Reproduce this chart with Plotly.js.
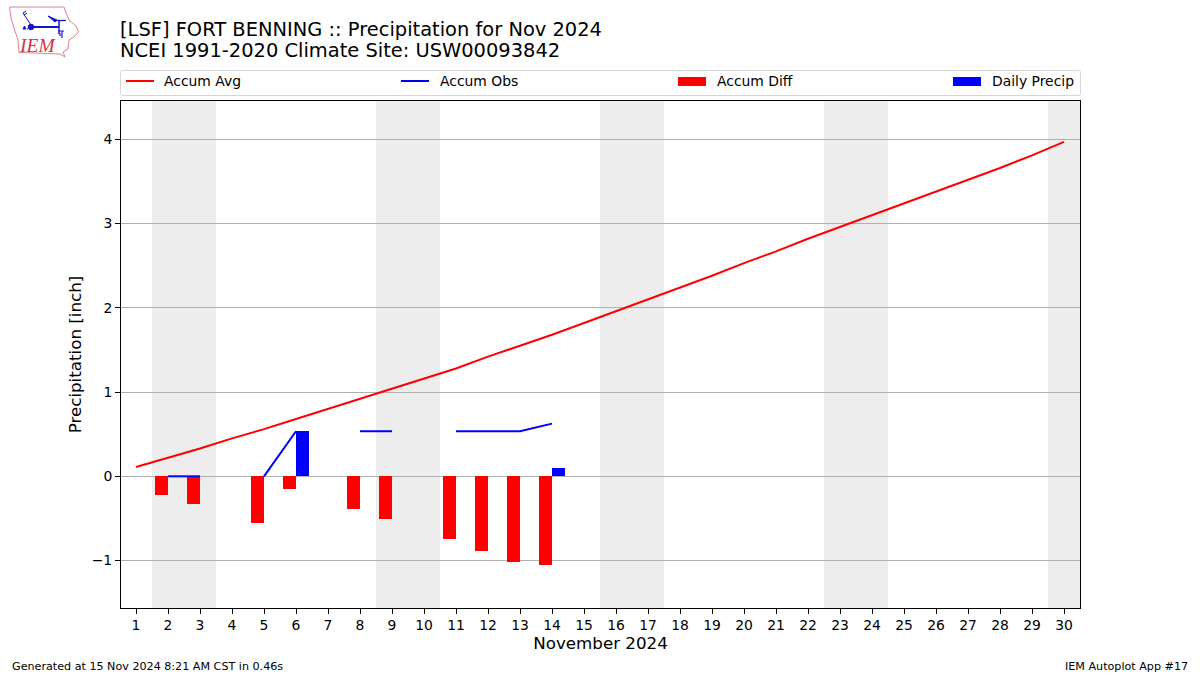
<!DOCTYPE html>
<html>
<head>
<meta charset="utf-8">
<script src="https://cdn.plot.ly/plotly-3.0.1.min.js"></script>
<style>html,body{margin:0;padding:0;background:#fff}#chart{width:1200px;height:675px}</style>
</head>
<body>
<div id="chart"></div>
<script>
const days = [1,2,3,4,5,6,7,8,9,10,11,12,13,14,15,16,17,18,19,20,21,22,23,24,25,26,27,28,29,30];
const accumAvg = [0.11,0.22,0.33,0.45,0.56,0.68,0.80,0.92,1.04,1.16,1.28,1.42,1.55,1.68,1.82,1.96,2.10,2.24,2.38,2.53,2.67,2.82,2.96,3.10,3.24,3.38,3.52,3.66,3.81,3.97];
const accumObs = [null,0,0,null,0,0.535,null,0.535,0.535,null,0.535,0.535,0.535,0.625];
const diffDays = [2,3,5,6,8,9,11,12,13,14];
const accumDiff = [-0.226,-0.33,-0.56,-0.155,-0.39,-0.51,-0.745,-0.89,-1.02,-1.055];
const precipDays = [6,14];
const dailyPrecip = [0.535,0.095];
const weekendBands = [[1.5,3.5],[8.5,10.5],[15.5,17.5],[22.5,24.5],[29.5,30.5]];
const yTicks = [-1,0,1,2,3,4];

const L=121,R=1080,T=101,B=608;
const px = x => (x-L)/(R-L);
const py = y => (B-y)/(B-T);
const FONT = '"DejaVu Sans", sans-serif';

const traces = [
  {type:'scatter',mode:'lines',name:'Accum Avg',x:days,y:accumAvg,line:{color:'#ff0000',width:2},showlegend:false},
  {type:'scatter',mode:'lines',name:'Accum Obs',x:days.slice(0,accumObs.length),y:accumObs,line:{color:'#0000ff',width:2},connectgaps:false,showlegend:false},
  {type:'bar',name:'Accum Diff',x:diffDays,y:accumDiff,width:0.4,offset:-0.4,marker:{color:'#ff0000',line:{width:0}},showlegend:false},
  {type:'bar',name:'Daily Precip',x:precipDays,y:dailyPrecip,width:0.4,offset:0,marker:{color:'#0000ff',line:{width:0}},showlegend:false}
];

const shapes = weekendBands.map(b=>({type:'rect',xref:'x',yref:'paper',x0:b[0],x1:b[1],y0:0,y1:1,fillcolor:'#ededed',line:{width:0},layer:'below'}));

function rr(x0,y0,x1,y1,r){
  const X=v=>px(v),Y=v=>py(v);
  return `M${X(x0+r)},${Y(y0)}L${X(x1-r)},${Y(y0)}Q${X(x1)},${Y(y0)} ${X(x1)},${Y(y0+r)}L${X(x1)},${Y(y1-r)}Q${X(x1)},${Y(y1)} ${X(x1-r)},${Y(y1)}L${X(x0+r)},${Y(y1)}Q${X(x0)},${Y(y1)} ${X(x0)},${Y(y1-r)}L${X(x0)},${Y(y0+r)}Q${X(x0)},${Y(y0)} ${X(x0+r)},${Y(y0)}Z`;
}
shapes.push({type:'path',xref:'paper',yref:'paper',path:rr(120.5,70.5,1080.5,95.5,2),fillcolor:'#ffffff',line:{color:'#d6d6d6',width:1}});
shapes.push({type:'line',xref:'paper',yref:'paper',x0:px(126),x1:px(154),y0:py(81),y1:py(81),line:{color:'#ff0000',width:2}});
shapes.push({type:'line',xref:'paper',yref:'paper',x0:px(401),x1:px(429),y0:py(81),y1:py(81),line:{color:'#0000ff',width:2}});
shapes.push({type:'rect',xref:'paper',yref:'paper',x0:px(678),x1:px(706),y0:py(77),y1:py(86),fillcolor:'#ff0000',line:{width:0}});
shapes.push({type:'rect',xref:'paper',yref:'paper',x0:px(953),x1:px(981),y0:py(77),y1:py(86),fillcolor:'#0000ff',line:{width:0}});

function note(text,x,y,size,anchor,extra){
  return Object.assign({text,xref:'paper',yref:'paper',x:px(x),y:py(y),xanchor:anchor||'left',yanchor:'middle',showarrow:false,
    font:{family:FONT,size:size,color:'#000'},borderpad:0,borderwidth:0},extra||{});
}
const annotations = [
  note('NCEI 1991-2020 Climate Site: USW00093842',120,51,19.45),
  note('Accum Avg',164,81,13.9),
  note('Accum Obs',440,81,13.9),
  note('Accum Diff',717,81,13.9),
  note('Daily Precip',992,81,13.9),
  note('Generated at 15 Nov 2024 8:21 AM CST in 0.46s',12,666,11.15),
  note('IEM Autoplot App #17',1188,666,11.15,'right'),
  note('<i>IEM</i>',37.5,45,19.5,'center',{font:{family:'"Liberation Serif", serif',size:19.5,color:'#d8323c'}})
];

const logo = `<svg xmlns="http://www.w3.org/2000/svg" width="80" height="60" viewBox="0 0 80 60">
<path d="M9.5,7 L64,7 L66,13 L69,20 L76,26 L78.5,32 L74,37 L69,40 L68,49 L63,52 L65,57 L60,54 L19,52.5 L18,40 L14,28 L11,18 Z" fill="none" stroke="#e08088" stroke-width="1"/>
<g stroke="#1414d8" fill="#1414d8"><path d="M31,27 H59" stroke-width="2"/><path d="M59,21 V34" stroke-width="1.5"/><path d="M48,16 L57,20 L55,22 Z"/><path d="M53,20.5 H66" stroke-width="1.3"/><circle cx="31" cy="27" r="2.8"/><path d="M31,25 L23,13 M23,13 L26,11 M24,15 L27,13" stroke-width="1" fill="none"/><path d="M23,29 l1.5,-3 l1.5,3 z M27,29 h1"/><path d="M58,31 h6 M62,31 v7 M60,33 v3" stroke-width="1.2" fill="none"/></g>
</svg>`;

const layout = {
  width:1200,height:675,autosize:false,
  paper_bgcolor:'#fff',plot_bgcolor:'#fff',
  font:{family:FONT,size:13.9,color:'#000'},
  margin:{l:L,r:1200-R,t:T,b:675-B,pad:0,autoexpand:false},
  title:{text:'[LSF] FORT BENNING :: Precipitation for Nov 2024',x:120/1200,xanchor:'left',y:1-29/675,yanchor:'middle',font:{family:FONT,size:19.45,color:'#000'}},
  showlegend:false,
  bargap:0,
  barmode:'overlay',
  xaxis:{range:[0.53125,30.5],tickmode:'array',tickvals:days,ticktext:days.map(String),ticks:'outside',ticklen:5,tickwidth:1,tickcolor:'#000',
    showline:true,linecolor:'#000',linewidth:1,mirror:true,showgrid:false,zeroline:false,tickangle:0,ticklabelstandoff:-1,
    tickfont:{family:FONT,size:13.9,color:'#000'},
    title:{text:'November 2024',font:{family:FONT,size:16.7,color:'#000'},standoff:5}},
  yaxis:{range:[-1.563,4.4546],tickmode:'array',tickvals:yTicks,ticks:'outside',ticklen:5,tickwidth:1,tickcolor:'#000',
    showline:true,linecolor:'#000',linewidth:1,mirror:true,showgrid:true,gridcolor:'#b0b0b0',gridwidth:1,zeroline:false,
    tickfont:{family:FONT,size:13.9,color:'#000'},
    title:{text:'Precipitation [inch]',font:{family:FONT,size:16.7,color:'#000'},standoff:5}},
  shapes,annotations,
  images:[{source:'data:image/svg+xml;base64,'+btoa(logo),xref:'paper',yref:'paper',x:px(0),y:py(0),sizex:80/(R-L),sizey:60/(B-T),xanchor:'left',yanchor:'top',sizing:'stretch',layer:'above'}]
};
Plotly.newPlot('chart',traces,layout,{displayModeBar:false,staticPlot:true});
</script>
</body>
</html>
